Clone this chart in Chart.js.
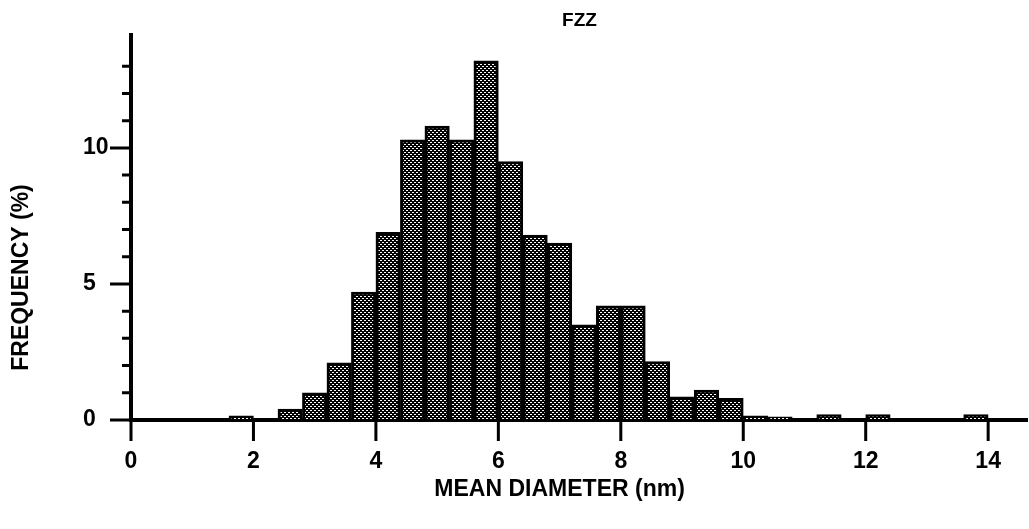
<!DOCTYPE html>
<html>
<head>
<meta charset="utf-8">
<script src="https://cdn.jsdelivr.net/npm/chart.js@4.4.1/dist/chart.umd.min.js"></script>
<style>
  body { margin: 0; background: #fff; }
  #wrap { width: 1029px; height: 529px; }
</style>
</head>
<body>
<div id="wrap"><canvas id="chart"></canvas></div>
<script>
// histogram bins are 0.4 nm wide, values are bin centres
const binCenters = [1.8, 2.6, 3.0, 3.4, 3.8, 4.2, 4.6, 5.0, 5.4, 5.8, 6.2, 6.6, 7.0, 7.4, 7.8, 8.2, 8.6, 9.0, 9.4, 9.8, 10.2, 10.6, 11.4, 12.2, 13.8];
const frequency = [0.15, 0.4, 1.0, 2.1, 4.7, 6.9, 10.3, 10.8, 10.3, 13.2, 9.5, 6.8, 6.5, 3.5, 4.2, 4.2, 2.15, 0.85, 1.1, 0.8, 0.15, 0.12, 0.2, 0.2, 0.2];

const xTickValues = [0, 2, 4, 6, 8, 10, 12, 14];
const yTickValues = [0, 5, 10];
const yMinorTicks = [1, 2, 3, 4, 6, 7, 8, 9, 11, 12, 13];

const chartTitle = "FZZ";
const xTitle = "MEAN DIAMETER (nm)";
const yTitle = "FREQUENCY (%)";

const FONT = "'Liberation Sans', Arial, sans-serif";
Chart.defaults.font.family = FONT;
Chart.defaults.color = "#000";

function makeStipple() {
    const c = document.createElement("canvas");
    c.width = 4;
    c.height = 4;
    const g = c.getContext("2d");
    g.fillStyle = "#000";
    g.fillRect(0, 0, 4, 4);
    g.fillStyle = "#fff";
    g.fillRect(0, 0, 2, 1);
    g.fillRect(2, 2, 2, 1);
    return g.createPattern(c, "repeat");
}

// tick marks (long at 0/5/10, short otherwise) and the two axis titles
const axisDecor = {
    id: "axisDecor",
    afterDraw(chart) {
        const {ctx, chartArea, scales: {x, y}} = chart;
        ctx.save();
        ctx.strokeStyle = "#000";
        ctx.lineWidth = 3;
        ctx.beginPath();
        yTickValues.forEach(v => {
            const p = y.getPixelForValue(v);
            ctx.moveTo(chartArea.left - 21, p);
            ctx.lineTo(chartArea.left, p);
        });
        yMinorTicks.forEach(v => {
            const p = y.getPixelForValue(v);
            ctx.moveTo(chartArea.left - 9, p);
            ctx.lineTo(chartArea.left, p);
        });
        xTickValues.forEach(v => {
            const p = x.getPixelForValue(v);
            ctx.moveTo(p, chartArea.bottom);
            ctx.lineTo(p, chartArea.bottom + 21);
        });
        ctx.stroke();

        ctx.fillStyle = "#000";
        ctx.font = "bold 23px " + FONT;
        ctx.textAlign = "center";
        ctx.textBaseline = "middle";
        ctx.fillText(xTitle, x.getPixelForValue(7), chartArea.bottom + 70);
        ctx.translate(22, (chartArea.top + chartArea.bottom) / 2 + 50);
        ctx.rotate(-Math.PI / 2);
        ctx.fillText(yTitle, 0, 0);
        ctx.restore();
    }
};

new Chart(document.getElementById("chart"), {
    type: "bar",
    data: {
        datasets: [{
            data: binCenters.map((c, i) => ({x: c, y: frequency[i]})),
            backgroundColor: makeStipple(),
            borderColor: "#000",
            borderWidth: 3,
            barPercentage: 1,
            categoryPercentage: 1
        }]
    },
    options: {
        responsive: true,
        maintainAspectRatio: false,
        animation: false,
        layout: {padding: {left: 83, top: 0, right: 0, bottom: 0}},
        plugins: {
            legend: {display: false},
            tooltip: {enabled: false},
            title: {
                display: true,
                text: chartTitle,
                fullSize: false,
                color: "#000",
                font: {size: 19, weight: "bold"},
                padding: {top: 9, bottom: 3.2}
            }
        },
        scales: {
            x: {
                type: "linear",
                offset: false,
                min: 0,
                max: 14.65,
                z: 1,
                grid: {display: true, drawOnChartArea: false, drawTicks: false},
                border: {display: true, color: "#000", width: 4},
                afterBuildTicks: s => { s.ticks = xTickValues.map(v => ({value: v})); },
                afterFit: s => { s.height = 109; },
                ticks: {
                    autoSkip: false,
                    maxRotation: 0,
                    padding: 28,
                    color: "#000",
                    font: {size: 23, weight: "bold"}
                }
            },
            y: {
                min: 0,
                max: 14.15,
                z: 1,
                grid: {display: true, drawOnChartArea: false, drawTicks: false},
                border: {display: true, color: "#000", width: 4},
                afterBuildTicks: s => { s.ticks = yTickValues.map(v => ({value: v})); },
                afterFit: s => { s.width = 48; },
                ticks: {
                    crossAlign: "far",
                    color: "#000",
                    font: {size: 23, weight: "bold"}
                }
            }
        }
    },
    plugins: [axisDecor]
});
</script>
</body>
</html>
